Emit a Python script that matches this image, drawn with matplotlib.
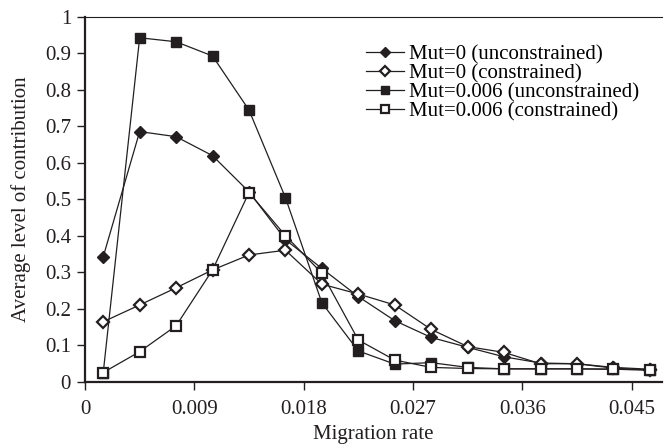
import matplotlib.pyplot as plt
import numpy as np

plt.rcParams['font.family'] = ['Liberation Serif', 'DejaVu Serif']

migration = [0.0015, 0.0045, 0.0075, 0.0105, 0.0135, 0.0165, 0.0195, 0.0225,
             0.0255, 0.0285, 0.0315, 0.0345, 0.0375, 0.0405, 0.0435, 0.0465]

mut0_unc = [0.343, 0.686, 0.672, 0.620, 0.521, 0.390, 0.311, 0.234,
            0.168, 0.122, 0.095, 0.069, 0.052, 0.050, 0.040, 0.035]
mut0_con = [0.165, 0.211, 0.258, 0.307, 0.348, 0.361, 0.268, 0.241,
            0.211, 0.144, 0.097, 0.081, 0.050, 0.050, 0.038, 0.033]
mut006_unc = [0.025, 0.943, 0.932, 0.893, 0.745, 0.505, 0.217, 0.085,
              0.049, 0.053, 0.040, 0.036, 0.036, 0.036, 0.035, 0.033]
mut006_con = [0.026, 0.083, 0.154, 0.307, 0.519, 0.401, 0.298, 0.115,
              0.060, 0.040, 0.037, 0.036, 0.036, 0.036, 0.035, 0.033]

labels = ['Mut=0 (unconstrained)', 'Mut=0 (constrained)',
          'Mut=0.006 (unconstrained)', 'Mut=0.006 (constrained)']

fig = plt.figure(figsize=(6.64, 4.46), dpi=100)
ax = fig.add_axes([0.128, 0.1435, 0.869, 0.8185])

ink = '#231f20'
lw = 0.9
fs = 15
ax.plot(migration, mut0_unc, color=ink, lw=lw, marker='D', ms=6.5,
        mfc=ink, mec=ink, label=labels[0], zorder=2)
ax.plot(migration, mut0_con, color=ink, lw=lw, marker='D', ms=6,
        mfc='white', mec=ink, mew=1.6, label=labels[1], zorder=3)
ax.plot(migration, mut006_unc, color=ink, lw=lw, marker='s', ms=7.5,
        mfc=ink, mec=ink, label=labels[2], zorder=4)
ax.plot(migration, mut006_con, color=ink, lw=lw, marker='s', ms=7.5,
        mfc='white', mec=ink, mew=1.6, label=labels[3], zorder=5)

ax.set_xlim(0, 0.0475)
ax.set_ylim(0, 1)
ax.set_xticks(np.arange(0, 0.046, 0.009))
ax.set_xticklabels(['0', '0.009', '0.018', '0.027', '0.036', '0.045'])
ax.set_yticks(np.arange(0, 1.01, 0.1))
ax.set_yticklabels(['0'] + ['%.1f' % v for v in np.arange(0.1, 0.95, 0.1)] + ['1'])

for side in ('left', 'bottom'):
    ax.spines[side].set_linewidth(1.6)
    ax.spines[side].set_color(ink)
ax.spines['top'].set_linewidth(0.8)
ax.spines['top'].set_color(ink)
ax.spines['right'].set_visible(False)
ax.tick_params(direction='out', length=6, width=1.0, colors=ink,
               labelsize=fs)
ax.tick_params(axis='x', pad=7)
ax.tick_params(axis='y', pad=4)

ax.set_xlabel('Migration rate', fontsize=fs, color=ink)
ax.set_ylabel('Average level of contribution', fontsize=fs, color=ink)
ax.xaxis.set_label_coords(0.5, -0.118)
ax.yaxis.set_label_coords(-0.094, 0.5)

ax.legend(loc='upper left', bbox_to_anchor=(366 / 664, 1 - 45 / 446),
          bbox_transform=fig.transFigure, frameon=False, fontsize=fs,
          handlelength=1.8, handletextpad=0.25, labelspacing=-0.03,
          borderpad=0, borderaxespad=0, markerscale=0.8)

fig.savefig('out.png', dpi=100)
